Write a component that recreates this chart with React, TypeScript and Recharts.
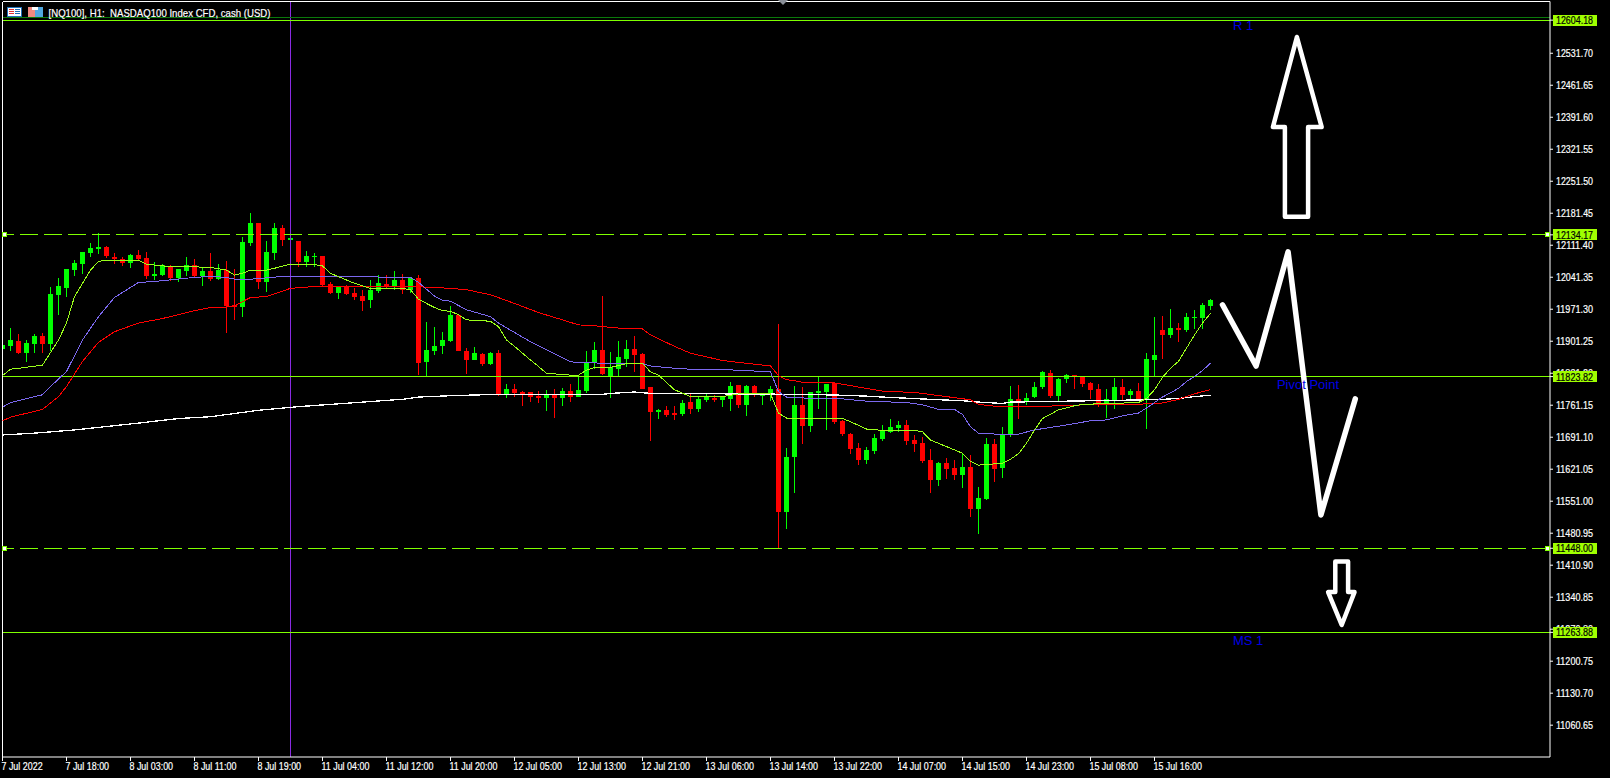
import { Bar, ComposedChart, Line, ReferenceDot, ReferenceLine, XAxis, YAxis } from "recharts";

const highs = [
  11893, 11930, 11916, 11904, 11916, 11919, 12020, 12040, 12060, 12079, 12097, 12116, 12138, 12110, 12094, 12086,
  12092, 12101, 12097, 12075, 12070, 12068, 12060, 12086, 12081, 12062, 12094, 12070, 12077, 12060, 12130, 12182,
  12160, 12121, 12160, 12156, 12134, 12121, 12099, 12094, 12088, 12031, 12020, 12024, 12018, 12014, 12035, 12046,
  12046, 12055, 12049, 12040, 12046, 11944, 11933, 11922, 11979, 11959, 11887, 11889, 11876, 11878, 11882, 11808,
  11808, 11793, 11790, 11793, 11795, 11797, 11799, 11808, 11825, 11880, 11900, 12000, 11878, 11902, 11904, 11913,
  11876, 11801, 11753, 11760, 11760, 11773, 11786, 11782, 11786, 11784, 11782, 11812, 11806, 11806, 11806, 11786,
  11803, 11939, 11668, 11803, 11801, 11790, 11823, 11808, 11810, 11729, 11700, 11679, 11670, 11698, 11718, 11731,
  11727, 11729, 11696, 11692, 11665, 11637, 11646, 11641, 11657, 11652, 11582, 11690, 11687, 11714, 11803, 11806,
  11788, 11812, 11836, 11838, 11821, 11830, 11827, 11825, 11812, 11808, 11797, 11821, 11819, 11797, 11810, 11876,
  11954, 11957, 11972, 11941, 11963, 11970, 11985, 11994,
];
const lows = [
  11884, 11880, 11873, 11856, 11876, 11876, 11880, 11959, 11998, 12044, 12049, 12086, 12092, 12084, 12070, 12066,
  12062, 12079, 12038, 12035, 12044, 12033, 12031, 12044, 12042, 12022, 12033, 12035, 11919, 11948, 11954, 12110,
  12016, 12009, 12079, 12110, 12114, 12064, 12064, 12064, 12020, 12005, 11994, 12003, 11992, 11968, 11974, 12007,
  12016, 12014, 12005, 12007, 11827, 11825, 11871, 11873, 11900, 11880, 11830, 11860, 11847, 11849, 11782, 11777,
  11779, 11760, 11768, 11766, 11749, 11733, 11760, 11768, 11779, 11788, 11841, 11827, 11777, 11825, 11845, 11834,
  11797, 11683, 11731, 11736, 11729, 11738, 11742, 11747, 11768, 11768, 11758, 11749, 11755, 11738, 11779, 11762,
  11771, 11449, 11490, 11569, 11676, 11703, 11753, 11707, 11720, 11694, 11655, 11630, 11633, 11655, 11683, 11700,
  11703, 11674, 11659, 11635, 11569, 11584, 11600, 11598, 11580, 11517, 11479, 11554, 11593, 11602, 11692, 11731,
  11762, 11777, 11797, 11777, 11771, 11810, 11797, 11801, 11775, 11757, 11733, 11753, 11773, 11773, 11773, 11709,
  11823, 11862, 11908, 11900, 11922, 11928, 11928, 11970,
];
const opens = [
  11884, 11891, 11902, 11876, 11895, 11913, 11895, 12003, 12018, 12057, 12070, 12094, 12103, 12108, 12086, 12081,
  12073, 12090, 12084, 12044, 12046, 12064, 12040, 12055, 12068, 12044, 12055, 12038, 12057, 11981, 11976, 12116,
  12160, 12031, 12094, 12149, 12123, 12121, 12075, 12086, 12088, 12027, 12007, 12022, 12007, 12000, 11992, 12011,
  12027, 12022, 12035, 12014, 12040, 11856, 11880, 11891, 11902, 11959, 11880, 11860, 11873, 11852, 11876, 11786,
  11797, 11790, 11790, 11782, 11777, 11786, 11777, 11793, 11779, 11793, 11856, 11882, 11825, 11841, 11862, 11884,
  11873, 11801, 11747, 11751, 11744, 11742, 11768, 11753, 11773, 11777, 11773, 11775, 11806, 11762, 11803, 11782,
  11786, 11797, 11528, 11648, 11762, 11716, 11788, 11790, 11810, 11727, 11698, 11668, 11641, 11661, 11687, 11703,
  11711, 11718, 11685, 11679, 11641, 11598, 11635, 11624, 11609, 11626, 11534, 11556, 11676, 11624, 11696, 11775,
  11768, 11779, 11801, 11832, 11781, 11819, 11827, 11823, 11810, 11797, 11762, 11773, 11801, 11784, 11792, 11775,
  11860, 11926, 11915, 11930, 11926, 11952, 11952, 11978,
];
const closes = [
  11893, 11904, 11876, 11897, 11913, 11895, 12005, 12022, 12060, 12073, 12097, 12105, 12108, 12088, 12081, 12073,
  12090, 12081, 12044, 12049, 12068, 12040, 12060, 12068, 12044, 12055, 12038, 12057, 11978, 11976, 12119, 12160,
  12031, 12097, 12149, 12123, 12127, 12075, 12088, 12088, 12024, 12007, 12020, 12005, 11998, 11989, 12014, 12029,
  12020, 12035, 12014, 12040, 11854, 11882, 11891, 11904, 11959, 11880, 11860, 11876, 11852, 11876, 11786, 11797,
  11788, 11786, 11779, 11777, 11786, 11777, 11793, 11779, 11795, 11854, 11882, 11830, 11845, 11867, 11884, 11871,
  11797, 11747, 11751, 11740, 11740, 11766, 11753, 11775, 11779, 11773, 11779, 11803, 11762, 11803, 11786, 11786,
  11797, 11528, 11648, 11762, 11716, 11790, 11792, 11808, 11725, 11698, 11665, 11641, 11663, 11690, 11707, 11714,
  11718, 11683, 11676, 11639, 11598, 11635, 11622, 11609, 11626, 11534, 11558, 11676, 11622, 11696, 11775, 11768,
  11777, 11801, 11834, 11781, 11819, 11827, 11823, 11808, 11795, 11762, 11775, 11801, 11784, 11792, 11773, 11862,
  11871, 11915, 11930, 11926, 11954, 11954, 11981, 11992,
];

// moving averages as [bar, price] knots
const fastMa = [
  [0, 11826], [1, 11840], [2, 11842], [5, 11849], [7, 11904], [8, 11941], [9, 11999], [10, 12028], [11, 12057],
  [12, 12076], [13, 12079], [17, 12079], [18, 12070], [20, 12066], [26, 12063], [28, 12057], [29, 12046], [30, 12050],
  [31, 12057], [33, 12057], [34, 12061], [36, 12070], [39, 12069], [40, 12066], [41, 12050], [44, 12028], [46, 12017],
  [50, 12017], [51, 12014], [52, 11993], [54, 11975], [55, 11968], [56, 11967], [57, 11959], [58, 11948], [61, 11945],
  [62, 11933], [63, 11904], [64, 11890], [66, 11860], [67, 11846], [68, 11831], [71, 11827], [72, 11827], [73, 11838],
  [74, 11844], [76, 11844], [78, 11852], [80, 11853], [81, 11834], [82, 11827], [84, 11795], [86, 11780], [90, 11780],
  [92, 11786], [96, 11786], [97, 11744], [98, 11733], [104, 11733], [105, 11732], [106, 11725], [108, 11709],
  [110, 11706], [114, 11706], [115, 11703], [116, 11685], [120, 11656], [121, 11638], [122, 11630], [125, 11634],
  [126, 11643], [127, 11655], [128, 11678], [129, 11707], [130, 11732], [132, 11751], [134, 11760], [135, 11763],
  [142, 11767], [143, 11776], [144, 11795], [145, 11822], [146, 11842], [147, 11857], [148, 11886], [149, 11915],
  [150, 11941], [151, 11962],
];
const midMa = [
  [0, 11757], [1, 11767], [5, 11784], [6, 11802], [8, 11835], [10, 11904], [12, 11955], [14, 11997], [17, 12030],
  [19, 12032], [24, 12041], [26, 12043], [28, 12041], [29, 12037], [31, 12037], [33, 12040], [35, 12043], [44, 12043],
  [49, 12041], [51, 12041], [52, 12030], [54, 12000], [55, 11991], [56, 11989], [58, 11970], [61, 11955], [62, 11941],
  [66, 11900], [71, 11856], [75, 11853], [80, 11852], [81, 11847], [84, 11842], [86, 11840], [92, 11838], [96, 11834],
  [97, 11791], [98, 11779], [99, 11779], [100, 11777], [105, 11775], [108, 11770], [113, 11767], [115, 11762],
  [117, 11752], [119, 11752], [120, 11741], [121, 11714], [122, 11700], [125, 11697], [127, 11698], [129, 11707],
  [133, 11718], [136, 11727], [138, 11729], [140, 11738], [142, 11744], [143, 11755], [145, 11779], [147, 11798],
  [148, 11813], [149, 11824], [150, 11837], [151, 11853],
];
const slowMa = [
  [0, 11727], [1, 11735], [5, 11752], [7, 11780], [8, 11802], [10, 11857], [12, 11899], [14, 11922], [17, 11941],
  [20, 11951], [24, 11968], [26, 11975], [28, 11976], [29, 11979], [31, 11997], [33, 11999], [36, 12017], [39, 12021],
  [49, 12021], [50, 12022], [51, 12021], [54, 12019], [56, 12017], [58, 12014], [61, 12003], [64, 11984], [67, 11964],
  [70, 11948], [72, 11937], [74, 11935], [77, 11930], [80, 11928], [81, 11915], [84, 11890], [86, 11875], [90, 11859],
  [93, 11853], [96, 11847], [97, 11826], [98, 11817], [99, 11815], [100, 11811], [104, 11810], [107, 11801],
  [110, 11792], [114, 11789], [115, 11787], [118, 11780], [121, 11773], [122, 11763], [124, 11759], [131, 11759],
  [132, 11761], [141, 11763], [143, 11764], [145, 11766], [147, 11774], [149, 11786], [150, 11791], [151, 11795],
];
const longMa = [
  [0, 11696], [4, 11700], [9, 11707], [17, 11722], [22, 11732], [26, 11736], [32, 11750], [37, 11758], [45, 11768],
  [49, 11773], [50, 11774], [52, 11779], [56, 11782], [60, 11784], [62, 11785], [75, 11785], [76, 11787], [79, 11790],
  [81, 11787], [100, 11785], [105, 11783], [108, 11781], [110, 11779], [116, 11774], [120, 11771], [122, 11768],
  [125, 11765], [126, 11768], [133, 11770], [143, 11773], [145, 11774], [147, 11776], [149, 11780], [151, 11783],
];

// hand drawn annotations, in [bar, price]
const arrowUp = [
  [161.8, 12567], [164.9, 12370], [163.2, 12370], [163.2, 12174], [160.3, 12174], [160.3, 12370], [158.8, 12370],
  [161.8, 12567],
];
const zigzag = [[152.5, 11981], [156.7, 11847], [160.7, 12097], [164.8, 11521], [169.1, 11775]];
const arrowDown = [
  [166.6, 11419], [168.2, 11419], [168.2, 11352], [169, 11352], [167.4, 11280], [165.7, 11352], [166.6, 11352],
  [166.6, 11419],
];

const yTicks = [
  12531.7, 12461.65, 12391.6, 12321.55, 12251.5, 12181.45, 12111.4, 12041.35, 11971.3, 11901.25, 11831.2, 11761.15,
  11691.1, 11621.05, 11551.0, 11480.95, 11410.9, 11340.85, 11270.8, 11200.75, 11130.7, 11060.65,
];
const xTicks = [0, 8, 16, 24, 32, 40, 48, 56, 64, 72, 80, 88, 96, 104, 112, 120, 128, 136, 144];
const xLabels = [
  "7 Jul 2022", "7 Jul 18:00", "8 Jul 03:00", "8 Jul 11:00", "8 Jul 19:00", "11 Jul 04:00", "11 Jul 12:00",
  "11 Jul 20:00", "12 Jul 05:00", "12 Jul 13:00", "12 Jul 21:00", "13 Jul 06:00", "13 Jul 14:00", "13 Jul 22:00",
  "14 Jul 07:00", "14 Jul 15:00", "14 Jul 23:00", "15 Jul 08:00", "15 Jul 16:00",
];
const solidLevels = [12604.18, 11823.82, 11263.88];
const dashedLevels = [12134.17, 11448.0];
const levelTexts = [
  { bar: 153.8, price: 12583, text: "R 1" },
  { bar: 159.3, price: 11797, text: "Pivot Point" },
  { bar: 153.8, price: 11236, text: "MS 1" },
];

const LEVEL = "#7FFF00";
const TAG = "#A0FF00";
const AXIS_FONT = "'Liberation Sans', sans-serif";
const Y_MAX = 12645;
const Y_MIN = 10991;
const X_MAX = 193.4375;
const BODY = 5;

const table = highs.map((h, i) => ({
  i,
  range: [lows[i], h] as [number, number],
  open: opens[i],
  close: closes[i],
  high: h,
  low: lows[i],
}));

const toPoints = (list: number[][]) => list.map(([i, v]) => ({ i, v }));

function Candle(props: any) {
  const { x, y, width, height, payload } = props;
  const { open, close, high, low } = payload;
  const color = close >= open ? "#00FF00" : "#FF0000";
  const mid = x + width / 2;
  const perPoint = high > low ? height / (high - low) : 0;
  const top = y + (high - Math.max(open, close)) * perPoint;
  const bodyH = Math.max(Math.abs(open - close) * perPoint, 1);
  return (
    <g shapeRendering="crispEdges">
      <rect x={mid - 0.5} y={y} width={1} height={Math.max(height, 1)} fill={color} />
      <rect x={mid - BODY / 2} y={top} width={BODY} height={bodyH} fill={color} />
    </g>
  );
}

function DateTick(props: any) {
  const { x, y, index } = props;
  return (
    <text
      transform={`translate(${x - 1},${y + 7}) scale(0.81,1)`}
      fill="#fff"
      stroke="#fff"
      strokeWidth={0.2}
      fontSize={11}
      fontFamily={AXIS_FONT}
      textAnchor="start"
    >
      {xLabels[index]}
    </text>
  );
}

// the level tags come last in the tick list so they sit over the plain ticks
function PriceTick(props: any) {
  const { x, y, payload } = props;
  const isLevel = solidLevels.includes(payload.value) || dashedLevels.includes(payload.value);
  const ink = isLevel ? "#000" : "#fff";
  return (
    <g>
      {isLevel && <rect x={x - 3} y={y - 5.5} width={44} height={11} fill={TAG} shapeRendering="crispEdges" />}
      <text x={x} y={y + 4} fill={ink} stroke={ink} strokeWidth={0.2} fontSize={11} fontFamily={AXIS_FONT} textLength={37} lengthAdjust="spacingAndGlyphs">
        {payload.value.toFixed(2)}
      </text>
    </g>
  );
}

function Handle(props: any) {
  const { cx, cy } = props;
  return <rect x={cx - 2} y={cy - 2} width={4} height={4} fill="#fff" stroke={LEVEL} strokeWidth={1} shapeRendering="crispEdges" />;
}

function LevelText(text: string) {
  return (props: any) => (
    <text x={props.cx} y={props.cy} fill="#0000E6" fontSize={13} fontFamily="'Liberation Sans', sans-serif">
      {text}
    </text>
  );
}

function TitleBar() {
  return (
    <svg style={{ position: "absolute", left: 0, top: 0 }} width={420} height={24}>
      <g shapeRendering="crispEdges">
        <rect x={7.5} y={7.5} width={14} height={9} fill="#fff" stroke="#1f6fb5" />
        <rect x={9} y={9} width={5} height={1} fill="#e03030" />
        <rect x={9} y={11} width={5} height={1} fill="#e03030" />
        <rect x={9} y={13} width={5} height={1} fill="#e03030" />
        <rect x={15} y={9} width={5} height={1} fill="#1f6fb5" />
        <rect x={15} y={11} width={5} height={1} fill="#1f6fb5" />
        <rect x={15} y={13} width={5} height={1} fill="#1f6fb5" />
        <rect x={28} y={7} width={7} height={10} fill="#f08a80" />
        <rect x={35} y={7} width={8} height={10} fill="#4fa8e0" />
        <rect x={32} y={7} width={6} height={3} fill="#fff" />
      </g>
      <text x={48.5} y={16.5} fill="#fff" stroke="#fff" strokeWidth={0.2} fontSize={11} fontFamily={AXIS_FONT} textLength={222} lengthAdjust="spacingAndGlyphs" xmlSpace="preserve">
        [NQ100], H1:  NASDAQ100 Index CFD, cash (USD)
      </text>
    </svg>
  );
}

export default function App() {
  return (
    <div style={{ position: "absolute", left: 0, top: 0, width: 1610, height: 778, background: "#000", overflow: "hidden" }}>
      <ComposedChart width={1610} height={778} data={table} margin={{ top: 1.5, right: 0, bottom: 0, left: 2.5 }}>
        <XAxis
          dataKey="i"
          type="number"
          domain={[0, X_MAX]}
          allowDataOverflow
          ticks={xTicks}
          interval={0}
          height={21}
          stroke="#fff"
          tickSize={4}
          tickMargin={2}
          tick={<DateTick />}
        />
        <YAxis
          orientation="right"
          type="number"
          domain={[Y_MIN, Y_MAX]}
          allowDataOverflow
          ticks={[...yTicks, ...solidLevels, ...dashedLevels]}
          interval={0}
          width={60}
          stroke="#fff"
          tickSize={3}
          tickMargin={3}
          tick={<PriceTick />}
        />
        <ReferenceLine x={0} stroke="#fff" shapeRendering="crispEdges" />
        <ReferenceLine y={Y_MAX} stroke="#fff" shapeRendering="crispEdges" />
        <ReferenceLine x={36} stroke="#8A2BE2" shapeRendering="crispEdges" />
        <ReferenceLine y={12610.5} stroke="#0A7A0A" shapeRendering="crispEdges" />
        {solidLevels.map((lv) => (
          <ReferenceLine key={lv} y={lv} stroke={LEVEL} shapeRendering="crispEdges" />
        ))}
        {dashedLevels.map((lv) => (
          <ReferenceLine key={lv} y={lv} stroke={LEVEL} strokeDasharray="18 6" shapeRendering="crispEdges" />
        ))}
        {dashedLevels.map((lv) => (
          <ReferenceDot key={"l" + lv} x={0.3} y={lv} shape={<Handle />} />
        ))}
        {dashedLevels.map((lv) => (
          <ReferenceDot key={"r" + lv} x={193.1} y={lv} shape={<Handle />} />
        ))}
        {levelTexts.map((t) => (
          <ReferenceDot key={t.text} x={t.bar} y={t.price} shape={LevelText(t.text)} />
        ))}
        <Bar dataKey="range" barSize={5} shape={<Candle />} isAnimationActive={false} />
        <Line data={toPoints(longMa)} dataKey="v" stroke="#FFFFFF" dot={false} strokeWidth={1.3} shapeRendering="crispEdges" isAnimationActive={false} />
        <Line data={toPoints(slowMa)} dataKey="v" stroke="#FF0000" dot={false} strokeWidth={1} shapeRendering="crispEdges" isAnimationActive={false} />
        <Line data={toPoints(midMa)} dataKey="v" stroke="#7B68EE" dot={false} strokeWidth={1} shapeRendering="crispEdges" isAnimationActive={false} />
        <Line data={toPoints(fastMa)} dataKey="v" stroke="#9AFF1A" dot={false} strokeWidth={1} shapeRendering="crispEdges" isAnimationActive={false} />
        <Line data={toPoints(arrowUp)} dataKey="v" stroke="#fff" dot={false} strokeWidth={4.5} strokeLinecap="round" strokeLinejoin="round" isAnimationActive={false} />
        <Line data={toPoints(zigzag)} dataKey="v" stroke="#fff" dot={false} strokeWidth={5.5} strokeLinecap="round" strokeLinejoin="round" isAnimationActive={false} />
        <Line data={toPoints(arrowDown)} dataKey="v" stroke="#fff" dot={false} strokeWidth={4.5} strokeLinecap="round" strokeLinejoin="round" isAnimationActive={false} />
      </ComposedChart>
      <TitleBar />
      <svg style={{ position: "absolute", left: 778, top: 0 }} width={11} height={6}>
        <polygon points="0,0 10,0 5,5" fill="#8a8f98" />
      </svg>
    </div>
  );
}
